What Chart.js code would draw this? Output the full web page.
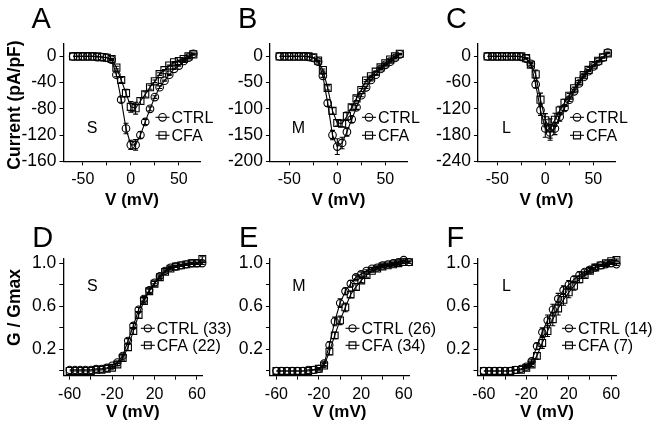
<!DOCTYPE html>
<html>
<head>
<meta charset="utf-8">
<script src="https://cdn.jsdelivr.net/npm/chart.js@4.4.0/dist/chart.umd.min.js"></script>
<style>
    body { margin: 0; background: #fff; width: 657px; height: 431px; position: relative; overflow: hidden; }
    canvas { position: absolute; }
</style>
</head>
<body>
<script>
// test potentials (mV)
const voltage = [-60, -55, -50, -45, -40, -35, -30, -25, -20, -15, -10, -5, 0, 5, 10, 15, 20, 25, 30, 35, 40, 45, 50, 55, 60, 65];

// I-V: current density (pA/pF), small / medium / large neurons
const ivCtrlS = [0, 0, 0, 0, 0, -1, -1, -2, -5, -28, -66, -110, -135, -135, -120, -100, -80, -62, -47, -37, -28, -19, -14, -7, -2, 4];
const ivCfaS  = [0, 0, 0, 0, 0, 0, -1, -2, -4, -17, -36, -56, -77, -79, -68, -58, -47, -38, -27, -21, -14, -9, -7, -4, 0, 3];
const ivCtrlM = [0, 0, 0, 0, 0, 0, -1, -3, -10, -37, -89, -150, -172, -165, -144, -120, -97, -74, -59, -45, -35, -24, -16, -10, -3, 4];
const ivCfaM  = [0, 0, 0, 0, 0, 0, 0, -2, -8, -26, -60, -104, -127, -128, -114, -97, -80, -64, -46, -38, -29, -21, -13, -6, 0, 5];
const ivCtrlL = [0, 0, 0, 0, 0, 0, 0, -1, -5, -17, -64, -123, -165, -174, -165, -138, -118, -99, -80, -62, -47, -34, -23, -12, -3, 9];
const ivCfaL  = [0, 0, 0, 0, 0, 0, 0, 0, -4, -19, -41, -99, -146, -165, -145, -124, -106, -90, -73, -57, -43, -31, -20, -10, -2, 7];

// I-V error bars (SEM)
const ivCtrlSErr = [0, 0, 0, 0, 0, 0, 0, 0, 1, 3, 4, 8, 7, 8, 5, 4, 3, 2, 2, 1, 1, 1, 1, 1, 1, 1];
const ivCfaSErr  = [0, 0, 0, 0, 0, 0, 0, 0, 1, 2, 4, 6, 8, 9, 5, 4, 3, 2, 2, 1, 1, 1, 1, 1, 1, 1];
const ivCtrlMErr = [0, 0, 0, 0, 0, 0, 0, 0, 1, 3, 6, 9, 15, 11, 8, 6, 4, 3, 2, 2, 1, 1, 1, 1, 1, 1];
const ivCfaMErr  = [0, 0, 0, 0, 0, 0, 0, 0, 1, 2, 4, 6, 6, 6, 8, 5, 4, 3, 2, 2, 1, 1, 1, 1, 1, 1];
const ivCtrlLErr = [0, 0, 0, 0, 0, 0, 0, 0, 1, 3, 8, 12, 20, 18, 14, 10, 6, 4, 3, 2, 2, 1, 1, 1, 1, 1];
const ivCfaLErr  = [0, 0, 0, 0, 0, 0, 0, 0, 1, 3, 10, 15, 15, 22, 15, 10, 8, 5, 3, 2, 2, 1, 1, 1, 1, 1];

// G-V: normalized conductance
const gvCtrlS = [0.01, 0.01, 0.01, 0.01, 0.01, 0.02, 0.02, 0.03, 0.05, 0.08, 0.14, 0.28, 0.42, 0.57, 0.67, 0.75, 0.82, 0.88, 0.93, 0.96, 0.97, 0.98, 0.99, 1.0, 1.0, 1.0];
const gvCfaS  = [0, 0, 0, 0, 0, 0.01, 0.01, 0.02, 0.03, 0.06, 0.12, 0.22, 0.37, 0.52, 0.65, 0.74, 0.81, 0.87, 0.92, 0.95, 0.97, 0.98, 0.99, 1.0, 1.0, 1.04];
const gvCtrlM = [0, 0, 0, 0, 0, 0, 0.01, 0.01, 0.02, 0.07, 0.24, 0.46, 0.63, 0.74, 0.81, 0.87, 0.90, 0.93, 0.95, 0.96, 0.98, 0.99, 1.0, 1.01, 1.03, 1.01];
const gvCfaM  = [0, 0, 0, 0, 0, 0, 0, 0.01, 0.02, 0.05, 0.18, 0.33, 0.47, 0.59, 0.71, 0.78, 0.84, 0.89, 0.93, 0.95, 0.97, 0.98, 0.99, 1.0, 1.01, 1.01];
const gvCtrlL = [0, 0, 0, 0, 0, 0, 0.01, 0.02, 0.04, 0.09, 0.23, 0.36, 0.47, 0.57, 0.67, 0.75, 0.80, 0.85, 0.89, 0.92, 0.94, 0.96, 0.98, 0.99, 1.0, 0.99];
const gvCfaL  = [0, 0, 0, 0, 0, 0, 0.01, 0.01, 0.03, 0.06, 0.14, 0.26, 0.37, 0.48, 0.58, 0.66, 0.73, 0.79, 0.85, 0.89, 0.93, 0.96, 0.98, 1.0, 1.02, 1.03];

const gvCtrlSErr = [0, 0, 0, 0, 0, 0, 0, 0, 0.01, 0.01, 0.02, 0.02, 0.02, 0.02, 0.02, 0.02, 0.01, 0.01, 0.01, 0.01, 0.01, 0.01, 0.01, 0.01, 0.01, 0.01];
const gvCfaSErr  = [0, 0, 0, 0, 0, 0, 0, 0, 0.01, 0.01, 0.02, 0.03, 0.03, 0.03, 0.02, 0.02, 0.02, 0.01, 0.01, 0.01, 0.01, 0.01, 0.01, 0.01, 0.01, 0.02];
const gvCtrlMErr = [0, 0, 0, 0, 0, 0, 0, 0, 0.01, 0.02, 0.03, 0.04, 0.04, 0.03, 0.03, 0.02, 0.02, 0.01, 0.01, 0.01, 0.01, 0.01, 0.01, 0.01, 0.01, 0.01];
const gvCfaMErr  = [0, 0, 0, 0, 0, 0, 0, 0, 0.01, 0.02, 0.03, 0.03, 0.04, 0.04, 0.03, 0.03, 0.02, 0.02, 0.01, 0.01, 0.01, 0.01, 0.01, 0.01, 0.01, 0.01];
const gvCtrlLErr = [0, 0, 0, 0, 0, 0, 0, 0, 0.01, 0.02, 0.03, 0.04, 0.05, 0.05, 0.05, 0.04, 0.04, 0.03, 0.03, 0.02, 0.02, 0.02, 0.01, 0.01, 0.01, 0.01];
const gvCfaLErr  = [0, 0, 0, 0, 0, 0, 0, 0, 0.01, 0.02, 0.03, 0.05, 0.05, 0.06, 0.06, 0.05, 0.05, 0.04, 0.03, 0.02, 0.02, 0.02, 0.01, 0.01, 0.01, 0.01];

// n (cells) for the G-V legends
const cellsCtrl = [33, 26, 14];
const cellsCfa  = [22, 34, 7];

// axis ticks
const ivXTicks  = [-50, -25, 0, 25, 50];
const ivXLabels = [-50, 0, 50];
const gvXTicks  = [-60, -40, -20, 0, 20, 40, 60];
const gvXLabels = [-60, -20, 20, 60];
const ivYTicksS = [0, -40, -80, -120, -160];
const ivYTicksM = [0, -50, -100, -150, -200];
const ivYTicksL = [0, -60, -120, -180, -240];
const gvYTicks  = [0, 0.2, 0.4, 0.6, 0.8, 1.0];
const gvYLabels = [0.2, 0.6, 1.0];

const FONT = "'Liberation Sans', Arial, sans-serif";

function ivPanel(letter, tag, box, left, yTicks, ctrl, cfa, ctrlErr, cfaErr, yTitle) {
    return {
        letter, tag, box,
        area: { left: left, right: left + 137, top: 43.3, bottom: 161.3 },
        x: { min: -70, max: 72.5, ticks: ivXTicks, labels: ivXLabels },
        y: { min: yTicks[4], max: -yTicks[1] / 2, ticks: yTicks, labels: yTicks, fmt: v => String(v) },
        series: [ctrl, cfa], errs: [ctrlErr, cfaErr],
        names: ['CTRL', 'CFA'],
        legend: { x: 99, rows: [74, 92] },
        tagPos: { x: 28.5, y: 85 },
        letterPos: { x: -32, y: -15 },
        yTitle: yTitle ? { text: yTitle, x: -48, y: 61.7 } : null,
        xTitlePad: 4.8,
        radius: [3.8, 5]
    };
}

function gvPanel(letter, tag, box, left, k, ctrl, cfa, ctrlErr, cfaErr, legendX, yTitle) {
    return {
        letter, tag, box,
        area: { left: left, right: left + 139, top: 258.3, bottom: 375.7 },
        x: { min: -66, max: 65, ticks: gvXTicks, labels: gvXLabels },
        y: { min: -0.044, max: 1.046, ticks: gvYTicks, labels: gvYLabels, fmt: v => v.toFixed(1) },
        series: [ctrl, cfa], errs: [ctrlErr, cfaErr],
        names: ['CTRL (' + cellsCtrl[k] + ')', 'CFA (' + cellsCfa[k] + ')'],
        legend: { x: legendX, rows: [70, 87] },
        tagPos: { x: 29, y: 28 },
        letterPos: { x: -31, y: -11 },
        yTitle: yTitle ? { text: yTitle, x: -48.3, y: 49.2 } : null,
        xTitlePad: 8.3,
        radius: [3.6, 4.8]
    };
}

const panels = [
    ivPanel('A', 'S', { x: 0, y: 0, w: 225, h: 215 }, 63.5, ivYTicksS, ivCtrlS, ivCfaS, ivCtrlSErr, ivCfaSErr, 'Current (pA/pF)'),
    ivPanel('B', 'M', { x: 222, y: 0, w: 210, h: 215 }, 270, ivYTicksM, ivCtrlM, ivCfaM, ivCtrlMErr, ivCfaMErr, null),
    ivPanel('C', 'L', { x: 432, y: 0, w: 225, h: 215 }, 478, ivYTicksL, ivCtrlL, ivCfaL, ivCtrlLErr, ivCfaLErr, null),
    gvPanel('D', 'S', { x: 0, y: 215, w: 238, h: 216 }, 63.3, 0, gvCtrlS, gvCfaS, gvCtrlSErr, gvCfaSErr, 84.5, 'G / Gmax'),
    gvPanel('E', 'M', { x: 238, y: 215, w: 208, h: 216 }, 270, 1, gvCtrlM, gvCfaM, gvCtrlMErr, gvCfaMErr, 82.5, null),
    gvPanel('F', 'L', { x: 446, y: 215, w: 211, h: 216 }, 477.5, 2, gvCtrlL, gvCfaL, gvCtrlLErr, gvCfaLErr, 91.5, null)
];

function drawMarker(ctx, style, x, y, r) {
    ctx.beginPath();
    if (style === 'circle') {
        ctx.arc(x, y, r, 0, Math.PI * 2);
    } else {
        const h = r * Math.SQRT1_2;
        ctx.rect(x - h, y - h, 2 * h, 2 * h);
    }
    ctx.stroke();
}

function makePanel(p) {
    const cv = document.createElement('canvas');
    cv.width = p.box.w;
    cv.height = p.box.h;
    cv.style.left = p.box.x + 'px';
    cv.style.top = p.box.y + 'px';
    document.body.appendChild(cv);

    const yAxisW = p.area.left - p.box.x;
    const xAxisH = p.box.y + p.box.h - p.area.bottom;
    const styles = ['circle', 'rect'];

    // error bars, panel letter, S/M/L tag, legend, y title
    const decor = {
        id: 'decor' + p.letter,
        beforeDatasetsDraw(chart) {
            const ctx = chart.ctx, ys = chart.scales.y;
            ctx.save();
            ctx.strokeStyle = '#000';
            ctx.lineWidth = 1.1;
            p.series.forEach((vals, i) => {
                const meta = chart.getDatasetMeta(i);
                vals.forEach((v, j) => {
                    const e = p.errs[i][j];
                    if (!e) return;
                    const x = meta.data[j].x;
                    const y1 = ys.getPixelForValue(v + e), y2 = ys.getPixelForValue(v - e);
                    ctx.beginPath();
                    ctx.moveTo(x, y1); ctx.lineTo(x, y2);
                    ctx.moveTo(x - 2.5, y1); ctx.lineTo(x + 2.5, y1);
                    ctx.moveTo(x - 2.5, y2); ctx.lineTo(x + 2.5, y2);
                    ctx.stroke();
                });
            });
            ctx.restore();
        },
        afterDraw(chart) {
            const ctx = chart.ctx, a = chart.chartArea;
            ctx.save();
            ctx.fillStyle = '#000';
            ctx.strokeStyle = '#000';

            ctx.font = '29px ' + FONT;
            ctx.textAlign = 'left';
            ctx.textBaseline = 'alphabetic';
            ctx.fillText(p.letter, a.left + p.letterPos.x, a.top + p.letterPos.y);

            ctx.font = '16px ' + FONT;
            ctx.textAlign = 'center';
            ctx.textBaseline = 'middle';
            ctx.fillText(p.tag, a.left + p.tagPos.x, a.top + p.tagPos.y);

            p.names.forEach((name, i) => {
                const cx = a.left + p.legend.x, cy = a.top + p.legend.rows[i];
                ctx.lineWidth = 1.1;
                ctx.beginPath();
                ctx.moveTo(cx - 7, cy); ctx.lineTo(cx + 7, cy);
                ctx.stroke();
                drawMarker(ctx, styles[i], cx, cy, p.radius[i]);
                ctx.font = '16px ' + FONT;
                ctx.textAlign = 'left';
                ctx.textBaseline = 'middle';
                ctx.fillText(name, cx + 9, cy + 1);
            });

            if (p.yTitle) {
                ctx.translate(a.left + p.yTitle.x, a.top + p.yTitle.y);
                ctx.rotate(-Math.PI / 2);
                ctx.font = 'bold 17.5px ' + FONT;
                ctx.textAlign = 'center';
                ctx.textBaseline = 'middle';
                ctx.fillText(p.yTitle.text, 0, 0);
            }
            ctx.restore();
        }
    };

    const datasets = p.series.map((vals, i) => ({
        label: p.names[i],
        data: voltage.map((v, j) => ({ x: v, y: vals[j] })),
        borderColor: '#000',
        borderWidth: 1.1,
        pointStyle: styles[i],
        pointRadius: p.radius[i],
        pointBorderWidth: 1.1,
        pointBorderColor: '#000',
        pointBackgroundColor: 'rgba(255,255,255,0)',
        tension: 0,
        clip: false
    }));

    new Chart(cv, {
        type: 'line',
        data: { datasets },
        options: {
            responsive: false,
            animation: false,
            events: [],
            layout: { padding: { left: 0, top: p.area.top - p.box.y, right: p.box.x + p.box.w - p.area.right, bottom: 0 } },
            plugins: { legend: { display: false }, tooltip: { enabled: false } },
            scales: {
                x: {
                    type: 'linear',
                    min: p.x.min,
                    max: p.x.max,
                    afterBuildTicks: s => { s.ticks = p.x.ticks.map(v => ({ value: v })); },
                    afterFit: s => { s.height = xAxisH; },
                    ticks: {
                        autoSkip: false, maxRotation: 0, padding: 5, color: '#000',
                        font: { family: FONT, size: 16 },
                        callback: v => p.x.labels.includes(v) ? String(v) : ''
                    },
                    grid: { drawOnChartArea: false, tickLength: 4, color: '#000', lineWidth: 1 },
                    border: { color: '#000', width: 1.3 },
                    title: {
                        display: true, text: 'V (mV)', color: '#000',
                        font: { family: FONT, size: 17, weight: 'bold' },
                        padding: { top: 0, bottom: p.xTitlePad }
                    }
                },
                y: {
                    type: 'linear',
                    min: p.y.min,
                    max: p.y.max,
                    afterBuildTicks: s => { s.ticks = p.y.ticks.map(v => ({ value: v })); },
                    afterFit: s => { s.width = yAxisW; },
                    ticks: {
                        autoSkip: false, padding: 3, color: '#000',
                        font: { family: FONT, size: 17.5 },
                        callback: v => p.y.labels.includes(v) ? p.y.fmt(v) : ''
                    },
                    grid: { drawOnChartArea: false, tickLength: 4, color: '#000', lineWidth: 1 },
                    border: { color: '#000', width: 1.3 }
                }
            }
        },
        plugins: [decor]
    });
}

panels.forEach(makePanel);
</script>
</body>
</html>
